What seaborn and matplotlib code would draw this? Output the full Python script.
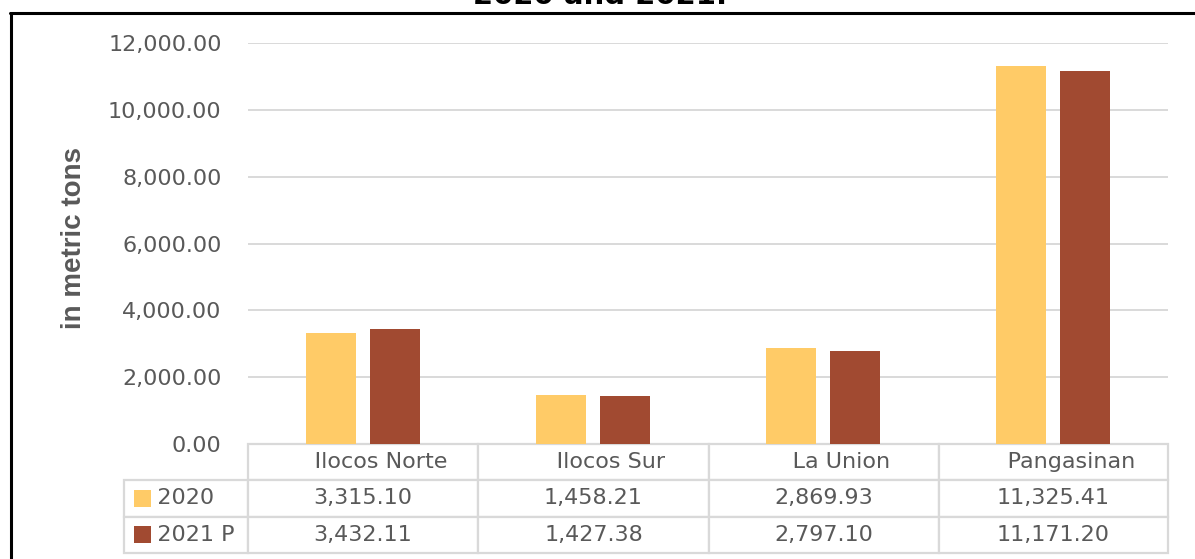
import numpy as np
import pandas as pd
import matplotlib.pyplot as plt
from matplotlib.patches import Rectangle
from matplotlib.lines import Line2D
import seaborn as sns

# data
provinces = ["Ilocos Norte", "Ilocos Sur", "La Union", "Pangasinan"]
years = ["2020", "2021 P"]
tons_2020 = [3315.10, 1458.21, 2869.93, 11325.41]
tons_2021 = [3432.11, 1427.38, 2797.10, 11171.20]
yticks = [0, 2000, 4000, 6000, 8000, 10000, 12000]
colors = ["#FFCB67", "#A14A31"]

df = pd.DataFrame({
    "province": provinces * 2,
    "year": [years[0]] * len(provinces) + [years[1]] * len(provinces),
    "tons": tons_2020 + tons_2021,
})

sns.set_theme(style="white")
plt.rcParams["font.family"] = ["DejaVu Sans"]
grey = "#595959"
line_grey = "#D9D9D9"

W, H = 1195, 559
fig = plt.figure(figsize=(W / 100, H / 100), dpi=100)
ax = fig.add_axes([248 / W, 1 - 444 / H, 920 / W, 401 / H])

sns.barplot(data=df, x="province", y="tons", hue="year", palette=colors,
            saturation=1, width=0.563, gap=0.23, linewidth=0, legend=False, ax=ax)

ax.set_ylim(0, 12000)
ax.set_yticks(yticks)
ax.set_yticklabels(["{:,.2f}".format(t) for t in yticks])
ax.tick_params(axis="y", length=0, pad=19, labelsize=16, labelcolor=grey)
ax.set_xticks([])
ax.set_xlabel("")
ax.set_ylabel("")
ax.yaxis.grid(True, color=line_grey, lw=1.4)
ax.set_axisbelow(True)
sns.despine(ax=ax, left=True, bottom=True)

fig.text(74 / W, 1 - 238 / H, "in metric tons", rotation=90, ha="center",
         va="center", fontsize=20, fontweight="bold", color=grey,
         family=["Liberation Sans Narrow", "Liberation Sans", "DejaVu Sans"])

# data table under the plot
cell_text = [["   " + years[0]] + ["{:,.2f}".format(v) for v in tons_2020],
             ["   " + years[1]] + ["{:,.2f}".format(v) for v in tons_2021]]
col_labels = [""] + ["     " + p for p in provinces]
tbl = ax.table(cellText=cell_text, colLabels=col_labels, cellLoc="center",
               colWidths=[124, 230, 231, 230, 229],
               bbox=[-124 / 920, -109 / 401, 1044 / 920, 109 / 401])
tbl.auto_set_font_size(False)
tbl.set_fontsize(16)
for (r, c), cell in tbl.get_celld().items():
    cell.set_edgecolor(line_grey)
    cell.set_linewidth(1.6)
    cell.get_text().set_color(grey)
    if c == 0:
        cell.get_text().set_ha("left")
        cell._loc = "left"
tbl[0, 0].visible_edges = ""

row_h = 109 / 401 / 3
for i, col in enumerate(colors):
    yc = -(i + 1.5) * row_h
    ax.add_patch(Rectangle((-114 / 920, yc - 8.5 / 401), 17 / 920, 17 / 401,
                           transform=ax.transAxes, color=col, lw=0, clip_on=False))

# cut-off title and frame
fig.text(0.502, 1 - 4 / H, "2020 and 2021.", ha="center", va="baseline",
         fontsize=21, fontweight="bold", color="black")
fig.add_artist(Line2D([10 / W, 1], [1 - 13 / H, 1 - 13 / H], color="black", lw=2.2))
fig.add_artist(Line2D([10.5 / W, 10.5 / W], [0, 1 - 13 / H], color="black", lw=2.2))

fig.savefig("out.png", dpi=100)
